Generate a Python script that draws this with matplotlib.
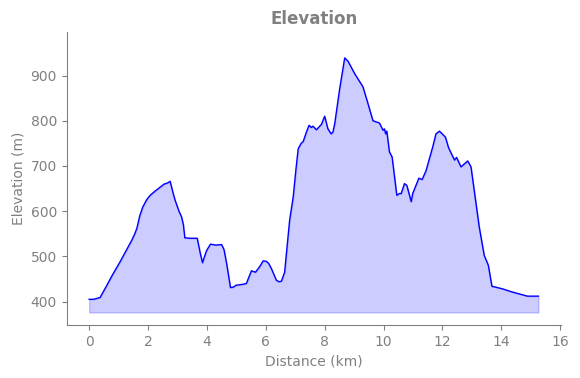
import matplotlib
matplotlib.use('Agg')
import matplotlib.pyplot as plt

# distance along the track (km) and elevation (m)
dist_km = [0.0, 0.15, 0.37, 0.55, 0.8, 1.05, 1.25, 1.45, 1.55, 1.62, 1.72, 1.82,
           1.95, 2.07, 2.25, 2.41, 2.55, 2.65, 2.75, 2.85, 2.92, 3.05, 3.14, 3.2,
           3.25, 3.45, 3.67, 3.78, 3.85, 3.92, 3.99, 4.12, 4.3, 4.5, 4.58, 4.67,
           4.8, 4.9, 4.98, 5.2, 5.34, 5.45, 5.51, 5.65, 5.8, 5.91, 6.02, 6.1,
           6.19, 6.36, 6.45, 6.53, 6.64, 6.72, 6.81, 6.93, 7.02, 7.10, 7.2, 7.27,
           7.38, 7.47, 7.55, 7.60, 7.66, 7.72, 7.89, 8.0, 8.11, 8.22, 8.28, 8.34,
           8.51, 8.68, 8.79, 9.02, 9.30, 9.47, 9.64, 9.86, 9.98, 10.03, 10.07,
           10.11, 10.20, 10.29, 10.45, 10.54, 10.60, 10.71, 10.79, 10.94, 10.99,
           11.20, 11.31, 11.44, 11.67, 11.78, 11.90, 12.10, 12.21, 12.41, 12.48,
           12.63, 12.86, 12.97, 13.25, 13.42, 13.56, 13.68, 14.05, 14.38, 14.89,
           15.26]
elev_m = [405, 405, 409, 430, 460, 488, 512, 536, 550, 562, 590, 609,
          625, 635, 645, 653, 660, 662, 666, 640, 624, 600, 587, 570,
          541, 540, 540, 505, 486, 500, 513, 527, 525, 526, 515, 484,
          431, 432, 436, 438, 440, 458, 468, 465, 478, 490, 489, 484,
          473, 447, 444, 445, 465, 520, 580, 631, 690, 738, 750, 754,
          775, 790, 785, 788, 784, 780, 792, 810, 782, 771, 775, 793,
          871, 939, 932, 904, 875, 838, 800, 795, 779, 782, 771,
          777, 731, 720, 635, 639, 639, 661, 657, 621, 639,
          673, 670, 689, 742, 771, 777, 764, 740, 713, 719,
          698, 711, 698, 565, 502, 480, 434, 428, 421, 412,
          412]

fill_base = 376
grey = '#808080'

fig, ax = plt.subplots(figsize=(5.8, 3.78), dpi=100)
fig.subplots_adjust(left=0.115, right=0.967, top=0.915, bottom=0.14)

ax.plot(dist_km, elev_m, color='blue', linewidth=1)
ax.fill_between(dist_km, elev_m, fill_base, color='blue', alpha=0.2)

ax.set_ylim(348, 996)
ax.set_title('Elevation', color=grey, fontsize=12, fontweight='bold')
ax.set_xlabel('Distance (km)', color=grey, fontsize=10)
ax.set_ylabel('Elevation (m)', color=grey, fontsize=10)

for s in ('top', 'right'):
    ax.spines[s].set_visible(False)
for s in ('left', 'bottom'):
    ax.spines[s].set_color(grey)
ax.tick_params(colors=grey, labelsize=10)

fig.savefig('out.png', dpi=100, facecolor='white')
